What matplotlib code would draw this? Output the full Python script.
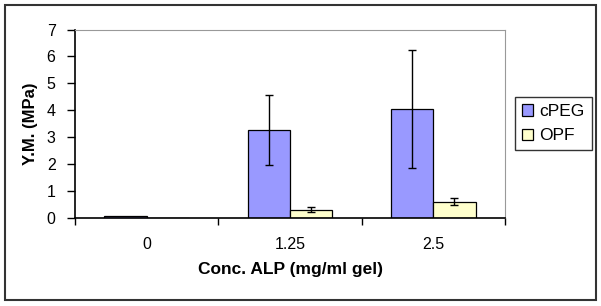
import numpy as np
import matplotlib
matplotlib.use("Agg")
import matplotlib.pyplot as plt
from matplotlib.patches import Rectangle

plt.rcParams['font.family'] = ['Liberation Sans', 'DejaVu Sans']

# data
categories = ['0', '1.25', '2.5']
cpeg_vals = [0.05, 3.25, 4.05]
cpeg_err = [0.0, 1.3, 2.2]
opf_vals = [0.0, 0.3, 0.6]
opf_err = [0.0, 0.09, 0.14]

fig = plt.figure(figsize=(6.01, 3.06), dpi=100)
ax = fig.add_axes([75 / 601, 1 - 217.7 / 306, 430 / 601, 188.2 / 306])

x = np.arange(len(categories))
w = 0.295
ax.bar(x - w / 2, cpeg_vals, w, color='#9999FF', edgecolor='black', linewidth=0.9,
       label='cPEG')
ax.bar(x + w / 2, opf_vals, w, color='#FFFFCC', edgecolor='black', linewidth=0.9,
       label='OPF')
# error bars (skip zero-error ones)
for xs, vals, errs in ((x - w / 2, cpeg_vals, cpeg_err),
                       (x + w / 2, opf_vals, opf_err)):
    for xi, v, e in zip(xs, vals, errs):
        if e > 0:
            ax.errorbar(xi, v, yerr=e, fmt='none', ecolor='black',
                        elinewidth=1.0, capsize=3, capthick=1.0)

ax.set_xlim(-0.5, 2.5)
ax.set_ylim(0, 7)
ax.set_yticks(range(0, 8))
ax.set_xticks([-0.5, 0.5, 1.5, 2.5])
ax.set_xticklabels([])
ax.set_xticks(x, minor=True)
ax.set_xticklabels(categories, minor=True)
ax.tick_params(axis='x', which='minor', length=0, pad=14, labelsize=11.5)
ax.tick_params(axis='x', which='major', direction='out', length=5, width=1)
ax.tick_params(axis='y', direction='out', length=6, width=1, labelsize=11.5, pad=8)

ax.spines['left'].set_color('black')
ax.spines['bottom'].set_color('black')
ax.spines['left'].set_linewidth(1.2)
ax.spines['bottom'].set_linewidth(1.2)
ax.spines['top'].set_color('#999999')
ax.spines['right'].set_color('#999999')

ax.set_xlabel('Conc. ALP (mg/ml gel)', fontsize=12.5, fontweight='bold', labelpad=7)
ax.set_ylabel('Y.M. (MPa)', fontsize=12, fontweight='bold', labelpad=6)

leg = fig.legend(loc='upper left', bbox_to_anchor=(515 / 601, 1 - 97 / 306),
                 fontsize=12.5, frameon=True, fancybox=False, edgecolor='black',
                 handlelength=0.65, handleheight=0.65, handletextpad=0.35,
                 borderpad=0.4, labelspacing=0.55, borderaxespad=0)
leg.get_frame().set_linewidth(1.0)

# outer chart frame
fig.patches.append(Rectangle((5 / 601, 1 - 300 / 306), 591 / 601, 295 / 306,
                             transform=fig.transFigure, fill=False,
                             edgecolor='#333333', linewidth=1.5))

fig.savefig('out.png', dpi=100)
